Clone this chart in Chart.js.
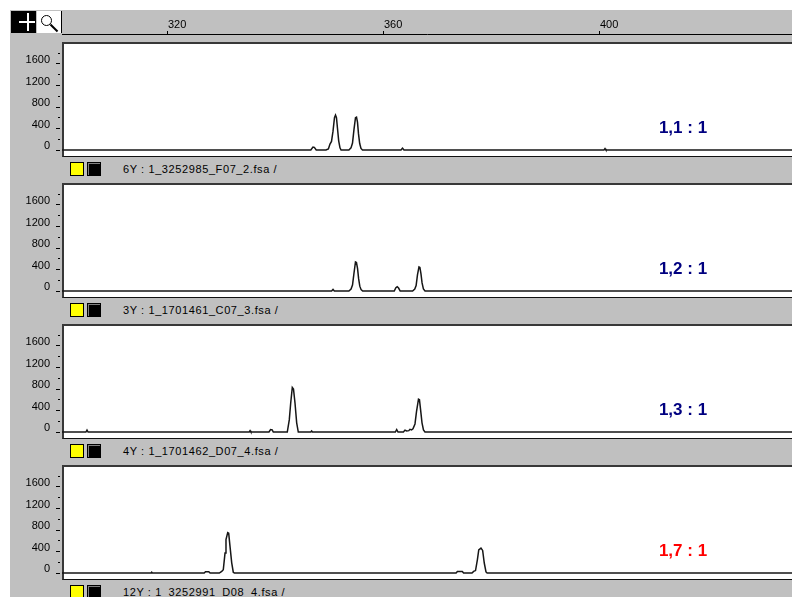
<!DOCTYPE html>
<html>
<head>
<meta charset="utf-8">
<script src="https://cdn.jsdelivr.net/npm/chart.js@4.4.1/dist/chart.umd.min.js"></script>
<style>
  html, body { margin: 0; padding: 0; background: #fff; }
  body { width: 792px; height: 597px; position: relative; overflow: hidden;
         font-family: "Liberation Sans", Arial, sans-serif; }
  .abs { position: absolute; }
  #frame { left: 10px; top: 10px; width: 782px; height: 587px; background: #c0c0c0; }
  #tbCross { left: 11px; top: 11px; width: 25px; height: 22px; background: #000; }
  #tbZoom { left: 37px; top: 11px; width: 24px; height: 22px; background: #fff; border-right: 1px solid #000; }
  .wbar { background: #fff; }
  .kbar { background: #000; }
  #lensRing { left: 41px; top: 15px; width: 9px; height: 9px; border: 1.5px solid #000; border-radius: 50%; }
  .plotbg { background: #fff; box-sizing: border-box;
            border-top: 2px solid #383838; border-left: 2px solid #383838; border-bottom: 1px solid #111; }
  .ratio { font-weight: bold; font-size: 17px; white-space: pre; transform: translate(-50%, -50%); }
  .fname { font-size: 11px; letter-spacing: 0.6px; color: #000; white-space: pre; transform: translateY(-50%); }
  .swY { width: 12px; height: 12px; background: #ffff00; border: 1px solid #000; }
  .swK { width: 12px; height: 12px; background: #000; border: 1px solid #000; box-shadow: inset 1px 1px 0 #808080; }
</style>
</head>
<body>
<div id="frame" class="abs"></div>
<div id="tbCross" class="abs"></div>
<div class="abs wbar" style="left:27px;top:13px;width:2px;height:18px;"></div>
<div class="abs wbar" style="left:19px;top:21px;width:16px;height:2px;"></div>
<div id="tbZoom" class="abs"></div>
<div id="lensRing" class="abs"></div>
<div class="abs kbar" style="left:49px;top:27px;width:10px;height:2px;transform:rotate(45deg);"></div>
<canvas id="ruler" class="abs" width="782" height="32" style="left:10px;top:10px;"></canvas>
<div id="panels"></div>

<script>
// ---- fragment size range shown (bp) ----
const X_MIN = 300.37;
const X_MAX = 435.56;
const RULER_TICKS = [320, 360, 400];

// ---- RFU axis ----
const Y_MIN = -130;
const Y_MAX = 2009;
const Y_TICKS = [0, 200, 400, 600, 800, 1000, 1200, 1400, 1600, 1800];

// ---- traces: fragment size (bp) and signal (RFU) ----
const sizes1 = [300, 346.45, 346.85, 347.1, 347.45, 349.25, 349.7, 350.0, 350.28, 350.56, 350.83, 351.02, 351.2, 351.39, 351.61, 351.85, 352.05, 353.5, 353.89, 354.17, 354.44, 354.72, 354.91, 355.09, 355.28, 355.5, 355.74, 356.02, 363.15, 363.43, 363.7, 400.75, 400.93, 401.1, 436];
const rfu1   = [0, 0, 55, 50, 0, 0, 20, 110, 160, 350, 600, 650, 600, 400, 170, 40, 0, 0, 40, 130, 380, 600, 610, 520, 300, 120, 30, 0, 0, 35, 0, 0, 25, 0, 0];

const sizes2 = [300, 350.3, 350.56, 350.8, 353.5, 353.9, 354.17, 354.44, 354.72, 354.9, 355.1, 355.3, 355.52, 355.76, 356.05, 361.9, 362.2, 362.45, 362.7, 363.0, 365.3, 365.7, 365.95, 366.2, 366.48, 366.65, 366.85, 367.05, 367.3, 367.6, 436];
const rfu2   = [0, 0, 30, 0, 0, 35, 110, 330, 540, 530, 420, 230, 90, 25, 0, 0, 60, 80, 55, 0, 0, 35, 100, 300, 450, 440, 320, 150, 40, 0, 0];

const sizes3 = [300, 304.8, 305.0, 305.2, 335.05, 335.2, 335.35, 338.7, 339.0, 339.3, 339.5, 342.09, 342.46, 342.72, 343.02, 343.24, 343.52, 343.83, 344.13, 346.45, 346.6, 346.75, 362.1, 362.35, 362.6, 363.6, 363.89, 364.2, 364.6, 364.81, 365.1, 365.37, 365.74, 366.02, 366.39, 366.57, 366.76, 367.04, 367.31, 367.59, 436];
const rfu3   = [0, 0, 35, 0, 0, 25, 0, 0, 45, 40, 0, 0, 225, 535, 830, 800, 540, 170, 0, 0, 20, 0, 0, 45, 0, 0, 35, 20, 25, 50, 40, 60, 150, 380, 610, 600, 430, 170, 40, 0, 0];

const sizes4 = [300, 316.85, 316.98, 317.1, 326.7, 326.95, 327.55, 327.8, 329.5, 329.95, 330.24, 330.56, 330.74, 331.06, 331.24, 331.48, 331.8, 332.09, 332.3, 373.35, 373.6, 374.5, 374.75, 376.3, 376.6, 376.95, 377.3, 377.55, 377.96, 378.27, 378.57, 378.89, 379.1, 436];
const rfu4   = [0, 0, 15, 0, 0, 25, 25, 0, 0, 30, 60, 370, 620, 750, 740, 500, 190, 15, 0, 0, 30, 30, 0, 0, 30, 45, 250, 430, 465, 420, 186, 20, 0, 0];

// ---- sample files and allele ratio calls ----
const sampleFiles = [
  "6Y : 1_3252985_F07_2.fsa /",
  "3Y : 1_1701461_C07_3.fsa /",
  "4Y : 1_1701462_D07_4.fsa /",
  "12Y : 1_3252991_D08_4.fsa /"
];
const ratioCalls = ["1,1 : 1", "1,2 : 1", "1,3 : 1", "1,7 : 1"];
const ratioFlagged = [false, false, false, true];

// ---- drawing ----
const FONT = '"Liberation Sans", Arial, sans-serif';
const PANEL_TOP = 42, PANEL_STEP = 141, PANEL_H = 115;
const traces = [[sizes1, rfu1], [sizes2, rfu2], [sizes3, rfu3], [sizes4, rfu4]];

Chart.defaults.font.family = FONT;

// size ruler across the top
new Chart(document.getElementById('ruler'), {
  type: 'line',
  data: { datasets: [] },
  options: {
    responsive: false, animation: false, devicePixelRatio: 1,
    layout: { padding: { left: 52, right: 0, top: 0, bottom: 0 }, autoPadding: false },
    plugins: { legend: { display: false }, tooltip: { enabled: false } },
    scales: {
      x: {
        type: 'linear', position: 'top', min: X_MIN, max: X_MAX,
        afterBuildTicks: s => { s.ticks = RULER_TICKS.map(v => ({ value: v })); },
        afterFit: s => { s.height = 24; s.paddingLeft = 0; s.paddingRight = 0; },
        ticks: { align: 'start', padding: -1, color: '#000', font: { size: 11 }, maxRotation: 0, autoSkip: false },
        grid: { drawOnChartArea: false, drawTicks: true, tickLength: 3, tickColor: '#000', tickWidth: 1 },
        border: { display: true, color: '#000', width: 1 }
      },
      y: { display: false, min: 0, max: 1 }
    }
  }
});

const host = document.getElementById('panels');
traces.forEach(([sizes, rfu], i) => {
  const top = PANEL_TOP + i * PANEL_STEP;

  const bg = document.createElement('div');
  bg.className = 'abs plotbg';
  Object.assign(bg.style, { left: '62px', top: top + 'px', width: '730px', height: PANEL_H + 'px' });
  host.appendChild(bg);

  const cv = document.createElement('canvas');
  cv.className = 'abs';
  cv.width = 782; cv.height = PANEL_H;
  Object.assign(cv.style, { left: '10px', top: top + 'px' });
  host.appendChild(cv);

  new Chart(cv, {
    type: 'line',
    data: {
      datasets: [{
        data: sizes.map((x, k) => ({ x: x, y: rfu[k] })),
        borderColor: '#161616', borderWidth: 1.5,
        pointRadius: 0, tension: 0, fill: false
      }]
    },
    options: {
      responsive: false, animation: false, devicePixelRatio: 1,
      layout: { padding: 0, autoPadding: false },
      plugins: { legend: { display: false }, tooltip: { enabled: false } },
      scales: {
        x: { type: 'linear', display: false, min: X_MIN, max: X_MAX },
        y: {
          type: 'linear', min: Y_MIN, max: Y_MAX,
          afterBuildTicks: s => { s.ticks = Y_TICKS.map(v => ({ value: v })); },
          afterFit: s => { s.width = 52; s.paddingTop = 0; s.paddingBottom = 0; },
          ticks: {
            callback: v => (v % 400 === 0 ? String(v) : ''),
            labelOffset: -4, padding: 6, color: '#000', font: { size: 11 }, autoSkip: false
          },
          grid: {
            drawOnChartArea: false, drawTicks: true, tickLength: 6, tickColor: '#000', tickWidth: 1,
            tickBorderDash: ctx => (ctx.tick && ctx.tick.value % 400 === 0 ? [4, 2] : [0, 2, 2, 2])
          },
          border: { display: false }
        }
      }
    }
  });

  const call = document.createElement('div');
  call.className = 'abs ratio';
  call.textContent = ratioCalls[i];
  Object.assign(call.style, { left: '683px', top: (top + 86) + 'px', color: ratioFlagged[i] ? '#ff0000' : '#000080' });
  host.appendChild(call);

  const swY = document.createElement('div');
  swY.className = 'abs swY';
  Object.assign(swY.style, { left: '70px', top: (top + 120) + 'px' });
  host.appendChild(swY);

  const swK = document.createElement('div');
  swK.className = 'abs swK';
  Object.assign(swK.style, { left: '87px', top: (top + 120) + 'px' });
  host.appendChild(swK);

  const fn = document.createElement('div');
  fn.className = 'abs fname';
  fn.textContent = sampleFiles[i];
  Object.assign(fn.style, { left: '123px', top: (top + 127) + 'px' });
  host.appendChild(fn);
});
</script>
</body>
</html>
